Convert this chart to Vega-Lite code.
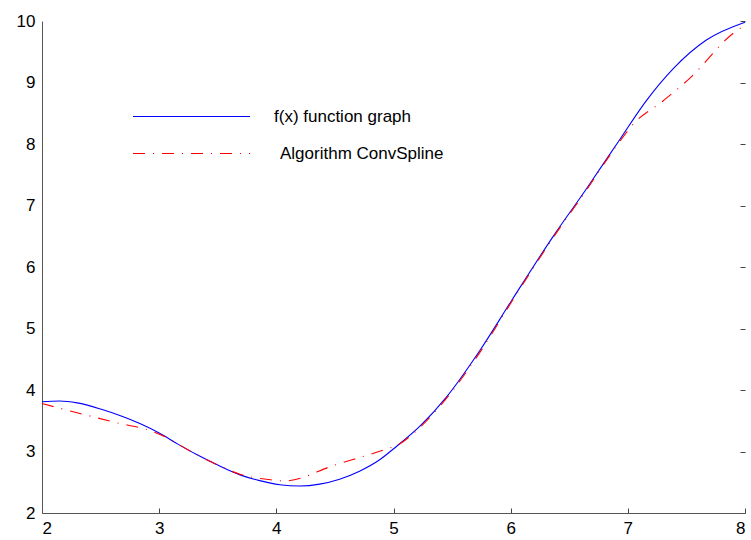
{
  "$schema": "https://vega.github.io/schema/vega-lite/v6.json",
  "width": 703,
  "height": 492,
  "autosize": {"type": "none"},
  "padding": {"left": 42, "top": 21, "right": 6, "bottom": 27},
  "config": {
    "view": {"stroke": null},
    "font": "Liberation Sans",
    "axis": {
      "domainColor": "#555555",
      "labelFont": "Liberation Sans",
      "labelFontSize": 17,
      "labelColor": "#000000",
      "title": null
    },
    "legend": {
      "title": null,
      "orient": "none",
      "symbolType": "stroke",
      "symbolSize": 13689,
      "symbolStrokeWidth": 1.1,
      "labelFont": "Liberation Sans",
      "labelFontSize": 17,
      "labelColor": "#000000",
      "labelOffset": 23,
      "labelLimit": 400
    }
  },
  "data": {
    "values": [
      {"x": 2.0, "y": 3.81, "s": "f(x) function graph"},
      {"x": 2.15, "y": 3.82, "s": "f(x) function graph"},
      {"x": 2.3, "y": 3.79, "s": "f(x) function graph"},
      {"x": 2.5, "y": 3.69, "s": "f(x) function graph"},
      {"x": 2.67, "y": 3.58, "s": "f(x) function graph"},
      {"x": 2.84, "y": 3.45, "s": "f(x) function graph"},
      {"x": 3.0, "y": 3.30, "s": "f(x) function graph"},
      {"x": 3.16, "y": 3.12, "s": "f(x) function graph"},
      {"x": 3.32, "y": 2.95, "s": "f(x) function graph"},
      {"x": 3.5, "y": 2.78, "s": "f(x) function graph"},
      {"x": 3.69, "y": 2.62, "s": "f(x) function graph"},
      {"x": 3.85, "y": 2.53, "s": "f(x) function graph"},
      {"x": 4.03, "y": 2.46, "s": "f(x) function graph"},
      {"x": 4.2, "y": 2.44, "s": "f(x) function graph"},
      {"x": 4.37, "y": 2.47, "s": "f(x) function graph"},
      {"x": 4.54, "y": 2.55, "s": "f(x) function graph"},
      {"x": 4.71, "y": 2.68, "s": "f(x) function graph"},
      {"x": 4.885, "y": 2.87, "s": "f(x) function graph"},
      {"x": 5.03, "y": 3.09, "s": "f(x) function graph"},
      {"x": 5.23, "y": 3.42, "s": "f(x) function graph"},
      {"x": 5.45, "y": 3.88, "s": "f(x) function graph"},
      {"x": 5.74, "y": 4.65, "s": "f(x) function graph"},
      {"x": 6.01, "y": 5.46, "s": "f(x) function graph"},
      {"x": 6.36, "y": 6.49, "s": "f(x) function graph"},
      {"x": 6.65, "y": 7.28, "s": "f(x) function graph"},
      {"x": 6.93, "y": 8.07, "s": "f(x) function graph"},
      {"x": 7.16, "y": 8.71, "s": "f(x) function graph"},
      {"x": 7.39, "y": 9.23, "s": "f(x) function graph"},
      {"x": 7.67, "y": 9.69, "s": "f(x) function graph"},
      {"x": 8.0, "y": 9.98, "s": "f(x) function graph"},
      {"x": 2.0, "y": 3.78, "s": "Algorithm ConvSpline"},
      {"x": 2.3, "y": 3.63, "s": "Algorithm ConvSpline"},
      {"x": 2.61, "y": 3.48, "s": "Algorithm ConvSpline"},
      {"x": 2.95, "y": 3.32, "s": "Algorithm ConvSpline"},
      {"x": 3.05, "y": 3.24, "s": "Algorithm ConvSpline"},
      {"x": 3.16, "y": 3.12, "s": "Algorithm ConvSpline"},
      {"x": 3.32, "y": 2.95, "s": "Algorithm ConvSpline"},
      {"x": 3.5, "y": 2.78, "s": "Algorithm ConvSpline"},
      {"x": 3.69, "y": 2.63, "s": "Algorithm ConvSpline"},
      {"x": 3.8, "y": 2.58, "s": "Algorithm ConvSpline"},
      {"x": 3.95, "y": 2.54, "s": "Algorithm ConvSpline"},
      {"x": 4.07, "y": 2.52, "s": "Algorithm ConvSpline"},
      {"x": 4.5, "y": 2.78, "s": "Algorithm ConvSpline"},
      {"x": 4.94, "y": 3.04, "s": "Algorithm ConvSpline"},
      {"x": 5.03, "y": 3.10, "s": "Algorithm ConvSpline"},
      {"x": 5.23, "y": 3.40, "s": "Algorithm ConvSpline"},
      {"x": 5.45, "y": 3.86, "s": "Algorithm ConvSpline"},
      {"x": 5.74, "y": 4.62, "s": "Algorithm ConvSpline"},
      {"x": 6.01, "y": 5.44, "s": "Algorithm ConvSpline"},
      {"x": 6.36, "y": 6.47, "s": "Algorithm ConvSpline"},
      {"x": 6.65, "y": 7.26, "s": "Algorithm ConvSpline"},
      {"x": 6.93, "y": 8.04, "s": "Algorithm ConvSpline"},
      {"x": 7.05, "y": 8.33, "s": "Algorithm ConvSpline"},
      {"x": 7.3, "y": 8.70, "s": "Algorithm ConvSpline"},
      {"x": 7.53, "y": 9.07, "s": "Algorithm ConvSpline"},
      {"x": 7.9, "y": 9.80, "s": "Algorithm ConvSpline"},
      {"x": 8.0, "y": 9.93, "s": "Algorithm ConvSpline"}
    ]
  },
  "resolve": {
    "scale": {"color": "independent"}
  },
  "layer": [
    {
      "transform": [{"filter": "datum.s === 'f(x) function graph'"}],
      "mark": {"type": "line", "interpolate": "monotone", "strokeWidth": 1.1, "color": "#0000ff"},
      "encoding": {
        "x": {
          "field": "x", "type": "quantitative",
          "scale": {"domain": [2, 8], "nice": false, "zero": false},
          "axis": {"values": [2, 3, 4, 5, 6, 7, 8], "format": "d", "domain": true, "ticks": false, "labelPadding": 7, "grid": true, "gridDash": [0, 487, 5, 2000], "gridColor": "#444444", "gridWidth": 1}
        },
        "y": {
          "field": "y", "type": "quantitative",
          "scale": {"domain": [2, 10], "nice": false, "zero": false},
          "axis": {"values": [2, 3, 4, 5, 6, 7, 8, 9, 10], "format": "d", "domain": true, "ticks": false, "labelPadding": 7, "grid": true, "gridDash": [0, 698, 5, 2000], "gridColor": "#444444", "gridWidth": 1}
        },
        "color": {
          "field": "s", "type": "nominal",
          "scale": {"domain": ["f(x) function graph"], "range": ["#0000ff"]},
          "legend": {"legendX": 90, "legendY": 36}
        }
      }
    },
    {
      "transform": [{"filter": "datum.s !== 'f(x) function graph'"}],
      "mark": {"type": "line", "interpolate": "monotone", "strokeWidth": 1.1, "strokeDash": [12, 8, 1, 8], "color": "#ff0000"},
      "encoding": {
        "x": {"field": "x", "type": "quantitative"},
        "y": {"field": "y", "type": "quantitative"},
        "color": {
          "field": "s", "type": "nominal",
          "scale": {"domain": ["Algorithm ConvSpline"], "range": ["#ff0000"]},
          "legend": {"legendX": 90, "legendY": 73, "labelOffset": 29, "symbolDash": [12, 8, 1, 8], "symbolStrokeColor": "#ff0000"}
        }
      }
    }
  ]
}
